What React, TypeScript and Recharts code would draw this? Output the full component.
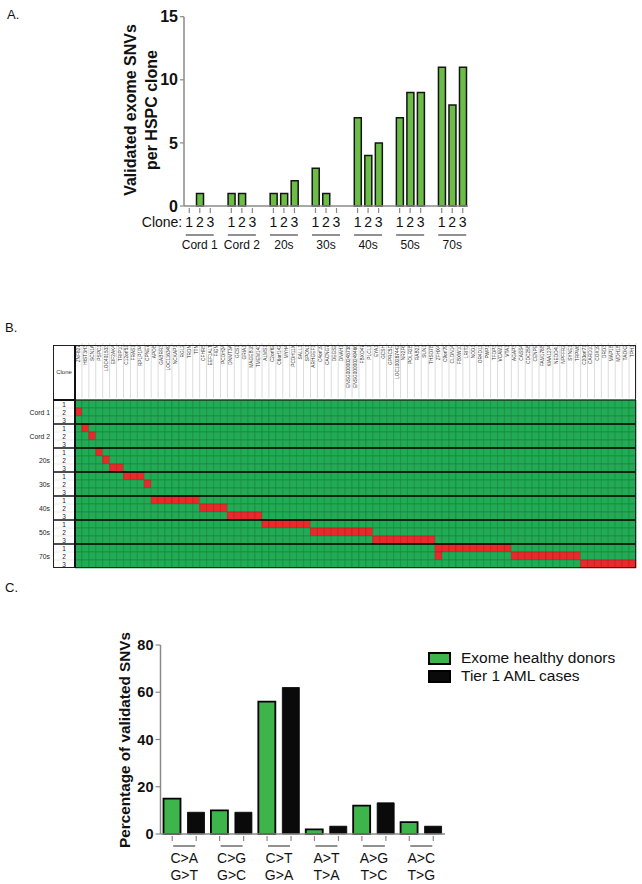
import React from "react";
import { Bar, BarChart, Cell, Legend, ReferenceLine, XAxis, YAxis } from "recharts";

const FONT = "Arial, 'Liberation Sans', Helvetica, sans-serif";

// ---- A. validated exome SNVs per HSPC clone
const ageGroups = ["Cord 1", "Cord 2", "20s", "30s", "40s", "50s", "70s"];
const cloneNames = ["1", "2", "3"];
const snvsPerClone = [
  [0, 1, 0],
  [1, 1, 0],
  [1, 1, 2],
  [3, 1, 0],
  [7, 4, 5],
  [7, 9, 9],
  [11, 8, 11],
];
const snvTicks = [0, 5, 10, 15];

// ---- B. genes with a validated SNV, per clone
const genes = [
  "ZNF827", "HIST3H3", "SCN1A", "PSPC1", "LOC401533", "EIF2AK4", "TRIP10", "C12orf51", "FRAS1",
  "RPLP1P4", "CPNE7", "APOB", "GABRR3", "LOC116349", "NCKAP1", "RGL2", "TRDN", "TTN", "CFHR5",
  "EEF1ALT", "FIGN", "PCDH24", "DNMT3A", "GCS1", "GRIA1", "MAGEB18", "TMEM140", "ALMS1",
  "C2orf62", "C6orf142", "MYH4", "PCDH11X", "SALL1", "SPON1", "ARHGEF1", "C4orf19", "CACNG7",
  "DEGS2", "DNAH1", "ENSG00000248738", "ENSG00000249466", "FBXO47", "PLCL1", "EYA1", "GCSH",
  "GPRC5D", "LOC100287442", "NR2F6", "POLR2B", "RAB21", "SUN1", "THSD7B", "ZFHX4", "C9orf79",
  "CLDN14", "FBXW10", "LRIT2", "NOD1", "OR4D11", "PWP1", "TFDP3", "VCAM1", "VTA1", "AGAP3",
  "CASS4", "CDC25B", "CENPE", "FAM178B", "KIAA1274", "NEDD4L", "NPFFR2", "SYNE1", "TRPM6",
  "C20orf71", "CARD10", "COX19", "DRD3", "MAP1B", "MDH1B", "TAOK2", "TPH1",
];
// 1-based gene columns mutated in each clone row (group order x clone 1..3)
const mutatedColumns = [
  [], [1], [],
  [2], [3], [],
  [4], [5], [6, 7],
  [8, 9, 10], [11], [],
  [12, 13, 14, 15, 16, 17, 18], [19, 20, 21, 22], [23, 24, 25, 26, 27],
  [28, 29, 30, 31, 32, 33, 34], [35, 36, 37, 38, 39, 40, 41, 42, 43], [44, 45, 46, 47, 48, 49, 50, 51, 52],
  [53, 54, 55, 56, 57, 58, 59, 60, 61, 62, 63], [53, 64, 65, 66, 67, 68, 69, 70, 71, 72, 73], [74, 75, 76, 77, 78, 79, 80, 81],
];

// ---- C. mutation spectrum
const mutationTop = ["C>A", "C>G", "C>T", "A>T", "A>G", "A>C"];
const mutationBottom = ["G>T", "G>C", "G>A", "T>A", "T>C", "T>G"];
const healthyPct = [15, 10, 56, 2, 12, 5];
const amlPct = [9.2, 9.2, 62, 3.3, 13.2, 3.3];
const pctTicks = [0, 20, 40, 60, 80];

const AXIS_GRAY = "#8a8a8a";
const BAR_GREEN_A = "#6bbd45";
const BAR_GREEN_C = "#3db54a";
const HEAT_GREEN = "#22ab55";
const HEAT_RED = "#e82a2b";

type CloneRow = { key: string; group: string; clone: string; value: number | null };
const cloneData: CloneRow[] = [];
ageGroups.forEach((group, gi) => {
  if (gi > 0) cloneData.push({ key: `gap${gi}`, group: "", clone: "", value: null });
  cloneNames.forEach((clone, ci) =>
    cloneData.push({ key: `${group}-${clone}`, group, clone, value: snvsPerClone[gi][ci] })
  );
});

const heatRows = ageGroups.flatMap((group) => cloneNames.map((clone) => ({ group, clone })));
const heatData = genes.map((gene) => {
  const row: Record<string, string | number> = { gene };
  heatRows.forEach((_, r) => {
    row[`r${r}`] = 1;
  });
  return row;
});
const rowCenters = heatRows.map((_, r) => r + 0.5);
const groupBounds = ageGroups.slice(1).map((_, i) => (i + 1) * cloneNames.length);

const HEAT_PLOT_W = 561;
const HEAT_PLOT_H = 168;
const cellW = HEAT_PLOT_W / genes.length;
const rowH = HEAT_PLOT_H / heatRows.length;

const mutationData = mutationTop.map((top, i) => ({
  key: top,
  top,
  bottom: mutationBottom[i],
  healthy: healthyPct[i],
  aml: amlPct[i],
}));

const C_BAR = 17;
const C_GAP = 7;

function CloneTick(props: any) {
  const { x, y, payload } = props;
  const d = cloneData.find((c) => c.key === payload.value);
  if (!d || !d.clone) return null;
  const first = d.clone === cloneNames[0] && d.group === ageGroups[0];
  const middle = d.clone === cloneNames[1];
  return (
    <g fontFamily={FONT}>
      <line x1={x} x2={x} y1={y} y2={y + 5} stroke={AXIS_GRAY} strokeWidth={1.2} />
      <text x={x} y={y + 19} textAnchor="middle" fontSize={14} fill="#111">
        {d.clone}
      </text>
      {first && (
        <text x={x - 7} y={y + 19} textAnchor="end" fontSize={14} fill="#111">
          Clone:
        </text>
      )}
      {middle && (
        <>
          <line x1={x - 14} x2={x + 14} y1={y + 27} y2={y + 27} stroke="#222" strokeWidth={1} />
          <text x={x} y={y + 41} textAnchor="middle" fontSize={12} fill="#111">
            {d.group}
          </text>
        </>
      )}
    </g>
  );
}

function GeneTick(props: any) {
  const { x, y, payload } = props;
  return (
    <g>
      <line x1={x + cellW / 2} x2={x + cellW / 2} y1={y - 55} y2={y} stroke="#c4c4c4" strokeWidth={0.6} />
      <text
        x={x}
        y={y - 53}
        transform={`rotate(-90, ${x}, ${y - 53})`}
        textAnchor="end"
        dominantBaseline="central"
        fontSize={4.8}
        fontFamily={FONT}
        fill="#333"
      >
        {payload.value}
      </text>
    </g>
  );
}

function RowTick(props: any) {
  const { x, y, payload } = props;
  const r = Math.floor(payload.value);
  const row = heatRows[r];
  const pos = r % cloneNames.length;
  return (
    <g fontFamily={FONT}>
      <text x={x} y={y} textAnchor="middle" dominantBaseline="central" fontSize={6.5} fill="#222">
        {row.clone}
      </text>
      {pos === 1 && (
        <text x={x - 14} y={y} textAnchor="end" dominantBaseline="central" fontSize={6.8} fill="#222">
          {row.group}
        </text>
      )}
      {pos === 0 && r > 0 && (
        <line x1={x - 11} x2={x + 11} y1={y - rowH / 2} y2={y - rowH / 2} stroke="#000" strokeWidth={1.4} />
      )}
      {pos !== cloneNames.length - 1 && (
        <line x1={x - 11} x2={x + 11} y1={y + rowH / 2} y2={y + rowH / 2} stroke="#d0d0d0" strokeWidth={0.5} />
      )}
    </g>
  );
}

function MutationTick(props: any) {
  const { x, y, payload } = props;
  const d = mutationData.find((m) => m.key === payload.value);
  if (!d) return null;
  const off = (C_BAR + C_GAP) / 2;
  return (
    <g fontFamily={FONT} fill="#111">
      <line x1={x - off} x2={x - off} y1={y} y2={y + 5} stroke={AXIS_GRAY} strokeWidth={1.2} />
      <line x1={x + off} x2={x + off} y1={y} y2={y + 5} stroke={AXIS_GRAY} strokeWidth={1.2} />
      <line x1={x - off + 1} x2={x + off - 1} y1={y + 10} y2={y + 10} stroke="#222" strokeWidth={1} />
      <text x={x} y={y + 27} textAnchor="middle" fontSize={14}>
        {d.top}
      </text>
      <text x={x} y={y + 44} textAnchor="middle" fontSize={14}>
        {d.bottom}
      </text>
    </g>
  );
}

function MutationLegend(props: any) {
  const { payload = [] } = props;
  return (
    <div style={{ fontFamily: FONT, fontSize: 15.5, color: "#111" }}>
      {payload.map((entry: any) => (
        <div key={entry.value} style={{ display: "flex", alignItems: "center", height: 18 }}>
          <span
            style={{
              width: 23,
              height: 13,
              boxSizing: "border-box",
              background: entry.color,
              border: "2px solid #000",
              display: "inline-block",
            }}
          />
          <span style={{ marginLeft: 10 }}>{entry.value}</span>
        </div>
      ))}
    </div>
  );
}

const panelLabel: React.CSSProperties = {
  position: "absolute",
  fontFamily: FONT,
  fontSize: 13,
  lineHeight: "13px",
  color: "#111",
};

function RotatedTitle({ lines, cx, cy, size, lineH }: { lines: string[]; cx: number; cy: number; size: number; lineH: number }) {
  const w = 260;
  const h = lines.length * lineH;
  return (
    <div
      style={{
        position: "absolute",
        left: cx - w / 2,
        top: cy - h / 2,
        width: w,
        height: h,
        transform: "rotate(-90deg)",
        transformOrigin: "center",
        textAlign: "center",
        fontFamily: FONT,
        fontWeight: 700,
        fontSize: size,
        lineHeight: `${lineH}px`,
        color: "#111",
        whiteSpace: "nowrap",
      }}
    >
      {lines.map((l) => (
        <div key={l}>{l}</div>
      ))}
    </div>
  );
}

export default function App() {
  return (
    <div style={{ position: "absolute", left: 0, top: 0, width: 642, height: 884, background: "#fff", overflow: "hidden" }}>
      {/* Panel A */}
      <div style={{ ...panelLabel, left: 7, top: 8 }}>A.</div>
      <RotatedTitle lines={["Validated exome SNVs", "per HSPC clone"]} cx={141} cy={110} size={16} lineH={21} />
      <div style={{ position: "absolute", left: 0, top: 0 }}>
        <BarChart width={642} height={262} data={cloneData} margin={{ top: 16.7, right: 174, bottom: 6, left: 0 }} barSize={7}>
          <YAxis
            width={184}
            domain={[0, 15]}
            ticks={snvTicks}
            interval={0}
            axisLine={{ stroke: AXIS_GRAY, strokeWidth: 1.5 }}
            tickLine={{ stroke: AXIS_GRAY, strokeWidth: 1.2 }}
            tickSize={4}
            tickMargin={2}
            tick={{ fill: "#111", fontSize: 16, fontWeight: 700, fontFamily: FONT }}
          />
          <XAxis
            dataKey="key"
            interval={0}
            height={50}
            axisLine={{ stroke: AXIS_GRAY, strokeWidth: 1.5 }}
            tickLine={false}
            tickSize={0}
            tick={<CloneTick />}
          />
          <Bar dataKey="value" fill={BAR_GREEN_A} stroke="#141414" strokeWidth={1.5} isAnimationActive={false} />
        </BarChart>
      </div>

      {/* Panel B */}
      <div style={{ ...panelLabel, left: 5, top: 321 }}>B.</div>
      <div style={{ position: "absolute", left: 0, top: 330 }}>
        <BarChart
          width={642}
          height={240}
          data={heatData}
          margin={{ top: 15, right: 6, bottom: 2, left: 0 }}
          barCategoryGap={0}
          barGap={0}
        >
          <XAxis
            dataKey="gene"
            orientation="top"
            interval={0}
            height={55}
            tickLine={false}
            tickSize={0}
            axisLine={{ stroke: "#111", strokeWidth: 1.2 }}
            tick={<GeneTick />}
          />
          <YAxis
            type="number"
            domain={[0, heatRows.length]}
            reversed
            ticks={rowCenters}
            interval={0}
            width={75}
            axisLine={{ stroke: "#111", strokeWidth: 1.5 }}
            tickLine={false}
            tickSize={0}
            tickMargin={11}
            tick={<RowTick />}
          />
          {heatRows.map((_, r) => (
            <Bar key={r} dataKey={`r${r}`} stackId="cells" isAnimationActive={false}>
              {genes.map((g, gi) => {
                const hit = mutatedColumns[r].includes(gi + 1);
                return (
                  <Cell
                    key={g}
                    fill={hit ? HEAT_RED : HEAT_GREEN}
                    stroke={hit ? "#b3191d" : "#14843d"}
                    strokeWidth={0.6}
                  />
                );
              })}
            </Bar>
          ))}
          {groupBounds.map((b) => (
            <ReferenceLine key={b} y={b} stroke="#000" strokeWidth={1.4} />
          ))}
        </BarChart>
      </div>
      <div style={{ position: "absolute", left: 53, top: 345, width: 583, height: 223, boxSizing: "border-box", border: "1px solid #222" }} />
      <div style={{ position: "absolute", left: 74.3, top: 345, width: 1.5, height: 223, background: "#111" }} />
      <div style={{ position: "absolute", left: 53, top: 399.4, width: 22, height: 1.2, background: "#111" }} />
      <div style={{ position: "absolute", left: 53, top: 369, width: 22, textAlign: "center", fontFamily: FONT, fontSize: 6, color: "#333" }}>
        Clone
      </div>

      {/* Panel C */}
      <div style={{ ...panelLabel, left: 5, top: 581 }}>C.</div>
      <RotatedTitle lines={["Percentage of validated SNVs"]} cx={125} cy={740} size={15.3} lineH={18} />
      <div style={{ position: "absolute", left: 0, top: 630 }}>
        <BarChart
          width={642}
          height={254}
          data={mutationData}
          margin={{ top: 15, right: 197, bottom: 2, left: 0 }}
          barSize={C_BAR}
          barGap={C_GAP}
        >
          <YAxis
            width={160.5}
            domain={[0, 80]}
            ticks={pctTicks}
            interval={0}
            axisLine={{ stroke: AXIS_GRAY, strokeWidth: 1.5 }}
            tickLine={{ stroke: AXIS_GRAY, strokeWidth: 1.2 }}
            tickSize={5}
            tickMargin={2}
            tick={{ fill: "#111", fontSize: 14.5, fontWeight: 700, fontFamily: FONT }}
          />
          <XAxis
            dataKey="key"
            interval={0}
            height={48}
            axisLine={{ stroke: AXIS_GRAY, strokeWidth: 1.5 }}
            tickLine={false}
            tickSize={0}
            tick={<MutationTick />}
          />
          <Legend
            layout="vertical"
            align="center"
            verticalAlign="middle"
            content={<MutationLegend />}
            wrapperStyle={{ position: "absolute", left: 428, top: 19, width: 214 }}
          />
          <Bar dataKey="healthy" name="Exome healthy donors" fill={BAR_GREEN_C} stroke="#000" strokeWidth={1.8} isAnimationActive={false} />
          <Bar dataKey="aml" name="Tier 1 AML cases" fill="#0a0a0a" stroke="#000" strokeWidth={0.8} isAnimationActive={false} />
        </BarChart>
      </div>
    </div>
  );
}
